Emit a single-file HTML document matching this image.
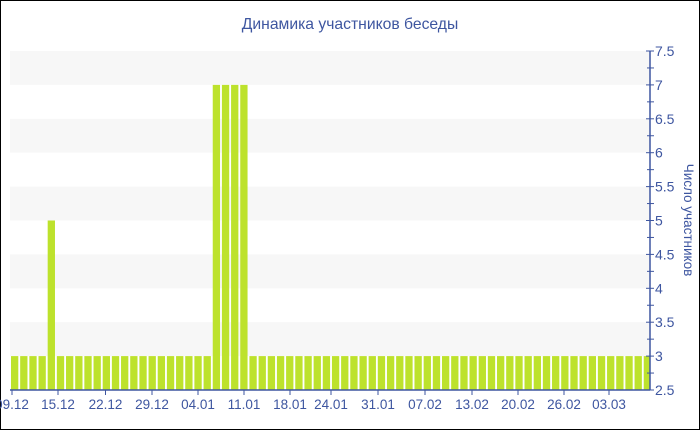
<!DOCTYPE html>
<html><head><meta charset="utf-8"><style>
body{margin:0;background:#fff}
svg{display:block;font-family:"Liberation Sans","DejaVu Sans",sans-serif}
</style></head><body>
<svg width="700" height="430" viewBox="0 0 700 430">
<rect x="0.5" y="0.5" width="699" height="429" fill="#fff" stroke="#000"/>
<text x="350" y="29" text-anchor="middle" font-size="15.7" fill="#3e56a0">Динамика участников беседы</text>
<g fill="#f7f7f7">
<rect x="10" y="51" width="640" height="33.9"/>
<rect x="10" y="118.8" width="640" height="33.9"/>
<rect x="10" y="186.6" width="640" height="33.9"/>
<rect x="10" y="254.4" width="640" height="33.9"/>
<rect x="10" y="322.2" width="640" height="33.9"/>
</g>
<defs><clipPath id="c"><rect x="0" y="0" width="650" height="430"/></clipPath></defs>
<g id="bars" fill="#bde22c" clip-path="url(#c)"></g>
<g stroke="#3e56a0" stroke-width="1.5" fill="none">
<line x1="650" y1="51" x2="650" y2="390"/>
<line x1="10" y1="390" x2="650" y2="390"/>
</g>
<g id="yt" stroke="#3e56a0" stroke-width="1"></g>
<g id="yl" font-size="14" fill="#3e56a0"></g>
<g id="xl" font-size="13.5" fill="#3e56a0" text-anchor="middle"></g>
<text transform="translate(684,220) rotate(90)" text-anchor="middle" font-size="13.5" fill="#3e56a0">Число участников</text>
</svg>
<script>
var ns="http://www.w3.org/2000/svg";
function el(t,a,p,txt){var e=document.createElementNS(ns,t);for(var k in a)e.setAttribute(k,a[k]);if(txt)e.textContent=txt;document.getElementById(p).appendChild(e);}
function Y(v){return 390-(v-2.5)*67.8;}
for(var i=0;i<70;i++){var v=3;if(i==4)v=5;if(i>=22&&i<=25)v=7;var x=11+i*9.17;el("rect",{x:x,y:Y(v),width:7.3,height:390-Y(v)},"bars");}
for(var v=2.5;v<=7.51;v+=0.25){var y=Y(v);var major=Math.abs(v*2-Math.round(v*2))<0.01;el("line",{x1:major?646:647,x2:654,y1:y,y2:y},"yt");if(major)el("text",{x:655,y:y+5},"yl",String(v));}
var xs=[[12,"09.12"],[58,"15.12"],[105.5,"22.12"],[152,"29.12"],[198,"04.01"],[244,"11.01"],[290,"18.01"],[331,"24.01"],[378,"31.01"],[425,"07.02"],[472,"13.02"],[518,"20.02"],[564,"26.02"],[609,"03.03"]];
xs.forEach(function(a){el("line",{x1:a[0],x2:a[0],y1:390,y2:395},"yt");el("text",{x:a[0],y:409},"xl",a[1]);});
</script>
</body></html>
